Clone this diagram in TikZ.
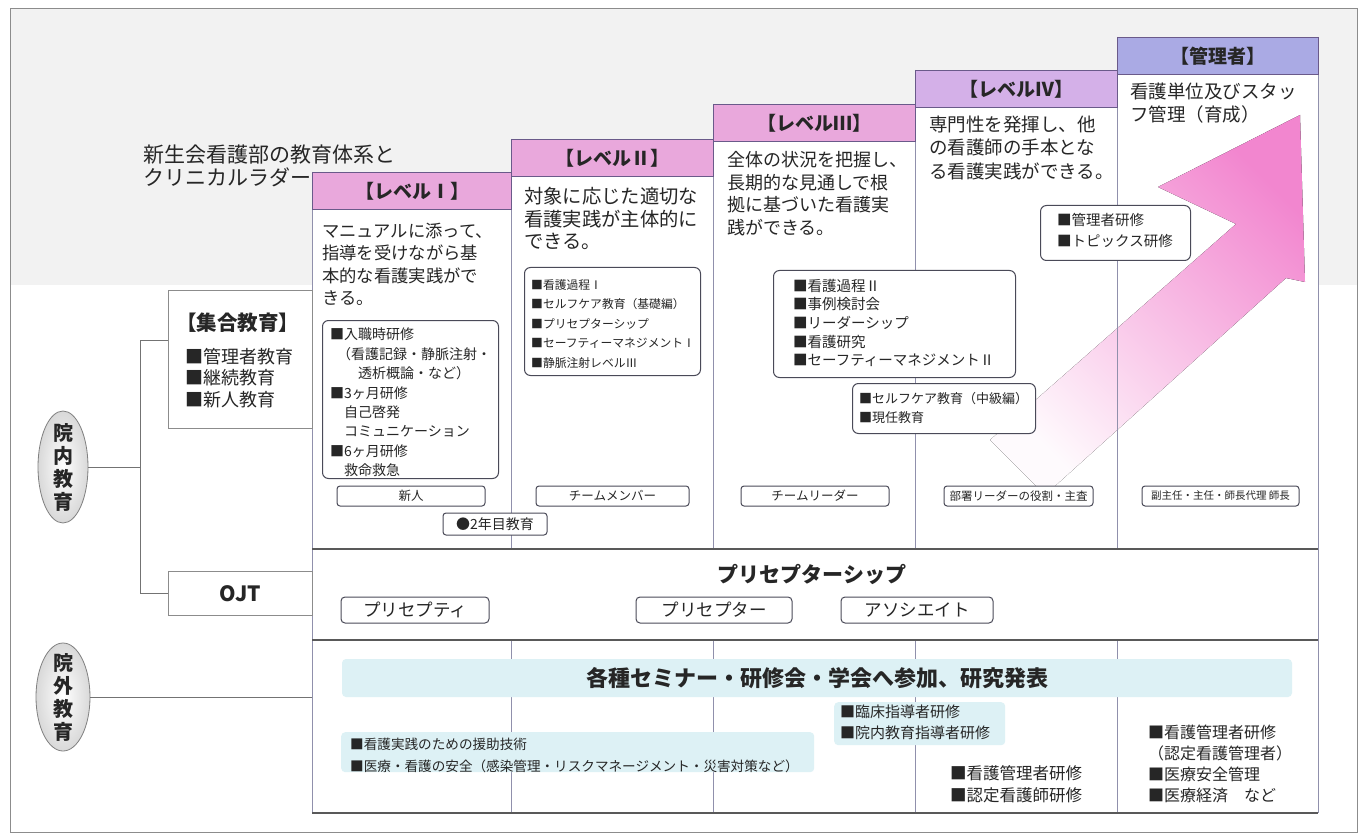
\documentclass[tikz,border=0pt]{standalone}
\usepackage{fontspec}
\setmainfont{Noto Sans CJK JP}
\usetikzlibrary{shapes.geometric}
\definecolor{hdrpink}{HTML}{E9A8DC}
\definecolor{hdrlav}{HTML}{D4B0E8}
\definecolor{hdrblue}{HTML}{AAAAE4}
\definecolor{colline}{HTML}{9090AC}
\definecolor{hdrline}{HTML}{6A5A8A}
\definecolor{boxline}{HTML}{4A4A58}
\definecolor{bandcyan}{HTML}{DDF1F5}
\definecolor{arrowpink}{HTML}{F286CF}
\definecolor{inktext}{HTML}{262626}
\newcommand{\fsz}[2]{\fontsize{#1}{#2}\selectfont}
\begin{document}
\begin{tikzpicture}[x=1pt,y=-1pt,
  every node/.style={text=inktext},
  txt/.style={anchor=north west, inner sep=0pt, align=left},
  rbox/.style={draw=boxline, line width=1pt, rounded corners=6pt, fill=white, anchor=north west, inner sep=0pt},
  lbl/.style={draw=boxline, line width=1pt, rounded corners=3pt, fill=white, inner sep=0pt, anchor=center},
  hdr/.style={fill=#1, draw=hdrline, line width=1.2pt, inner sep=0pt, anchor=north west, font=\fsz{19}{22}\bfseries},
  gridline/.style={draw=black!65, line width=1.6pt},
  colrule/.style={draw=colline, line width=0.9pt},
  conn/.style={draw=black!55, line width=1pt},
  oval/.style={ellipse, draw=black!50, line width=0.8pt, inner color=white, outer color=black!15, inner sep=0pt},
  vtext/.style={inner sep=0pt, align=center, font=\fsz{20}{23}\bfseries},
  band/.style={fill=bandcyan, rounded corners=4pt, inner sep=0pt},
]
\useasboundingbox (0,0) rectangle (1369,837);
\fill[white] (0,0) rectangle (1369,837);
\fill[black!5] (10,8) rectangle (1357,285);
\draw[black!45, line width=0.8pt] (10,8) rectangle (1357,832);

% title
\node[txt, font=\fsz{21}{23}] (title) at (143,144.5) {新生会看護部の教育体系と\\クリニカルラダー};

% columns
\fill[white] (312,172) rectangle (511,813);
\fill[white] (511,139) rectangle (713,813);
\fill[white] (713,104) rectangle (915,813);
\fill[white] (915,70) rectangle (1117,813);
\fill[white] (1117,37) rectangle (1318,813);

% big arrow
\fill[top color=arrowpink, bottom color=arrowpink!4, shading angle=-45]
  (1300,115) -- (1158,187) -- (1236,224) -- (990,440) -- (1045,495) -- (1286,278) -- (1305,282) -- cycle;

\draw[colrule] (312,172) -- (312,813);
\draw[colrule] (511,139) -- (511,549) (511,640) -- (511,813);
\draw[colrule] (713,104) -- (713,549) (713,640) -- (713,813);
\draw[colrule] (915,70) -- (915,549) (915,640) -- (915,813);
\draw[colrule] (1117,37) -- (1117,549) (1117,640) -- (1117,813);
\draw[colrule] (1318,37) -- (1318,813);

\node[hdr=hdrpink, minimum width=199, minimum height=37] (h1) at (312,172) {【レベルⅠ】};
\node[hdr=hdrpink, minimum width=202, minimum height=37] (h2) at (511,139) {【レベルⅡ】};
\node[hdr=hdrpink, minimum width=202, minimum height=37] (h3) at (713,104) {【レベルⅢ】};
\node[hdr=hdrlav, minimum width=202, minimum height=37] (h4) at (915,70) {【レベルⅣ】};
\node[hdr=hdrblue, minimum width=201, minimum height=37] (h5) at (1117,37) {【管理者】};

% grid lines
\draw[gridline] (312,549) -- (1318,549);
\draw[gridline] (312,640) -- (1318,640);
\draw[gridline] (312,813) -- (1318,813);

% descriptions
\node[txt, font=\fsz{17.3}{22.5}] (d1) at (322,222.5) {マニュアルに添って、\\指導を受けながら基\\本的な看護実践がで\\きる。};
\node[txt, font=\fsz{19.3}{22.5}] (d2) at (524,187.5) {対象に応じた適切な\\看護実践が主体的に\\できる。};
\node[txt, font=\fsz{18}{22.7}] (d3) at (727,151) {全体の状況を把握し、\\長期的な見通しで根\\拠に基づいた看護実\\践ができる。};
\node[txt, font=\fsz{18.5}{23.5}] (d4) at (929,115.5) {専門性を発揮し、他\\の看護師の手本とな\\る看護実践ができる。};
\node[txt, font=\fsz{18.5}{23}] (d5) at (1130,83) {看護単位及びスタッ\\フ管理（育成）};

% level boxes
\node[rbox, minimum width=176, minimum height=158] (b1) at (322,320) {};
\node[txt, font=\fsz{14}{19.4}] (b1t) at (330,328) {■入職時研修\\
\hspace*{7pt}（看護記録・静脈注射・\\
\hspace*{28pt}透析概論・など）\\
■3ヶ月研修\\
\hspace*{14pt}自己啓発\\
\hspace*{14pt}コミュニケーション\\
■6ヶ月研修\\
\hspace*{14pt}救命救急};

\node[rbox, minimum width=176, minimum height=108] (b2) at (524,267) {};
\node[txt, font=\fsz{11.8}{19.5}] (b2t) at (531,279.1) {■看護過程Ⅰ\\■セルフケア教育（基礎編）\\■プリセプターシップ\\■セーフティーマネジメントⅠ\\■静脈注射レベルⅢ};

\node[rbox, minimum width=242, minimum height=107] (b3) at (773,270) {};
\node[txt, font=\fsz{14.5}{18.7}] (b3t) at (793,278.7) {■看護過程Ⅱ\\■事例検討会\\■リーダーシップ\\■看護研究\\■セーフティーマネジメントⅡ};

\node[rbox, minimum width=183, minimum height=50] (b3b) at (852,383) {};
\node[txt, font=\fsz{13}{18.5}] (b3bt) at (859,392.5) {■セルフケア教育（中級編）\\■現任教育};

\node[rbox, minimum width=150, minimum height=55] (b4) at (1040,205) {};
\node[txt, font=\fsz{14.5}{21.5}] (b4t) at (1057,212.75) {■管理者研修\\■トピックス研修};

% role labels
\node[lbl, minimum width=148, minimum height=20, font=\fsz{12.5}{14}] (r1) at (411,496) {新人};
\node[lbl, minimum width=153, minimum height=20, font=\fsz{12.5}{14}] (r2) at (612.5,496) {チームメンバー};
\node[lbl, minimum width=148, minimum height=20, font=\fsz{12.5}{14}] (r3) at (815,496) {チームリーダー};
\node[lbl, minimum width=149, minimum height=20, font=\fsz{11.5}{14}] (r4) at (1018.5,496) {部署リーダーの役割・主査};
\node[lbl, minimum width=157, minimum height=20, font=\fsz{10.5}{14}] (r5) at (1220.5,496) {副主任・主任・師長代理 師長};
\node[lbl, minimum width=104, minimum height=22, font=\fsz{14}{16}] (r6) at (495,524) {●2年目教育};

% left side
\node[draw=black!45, line width=0.9pt, fill=white, anchor=north west, minimum width=144, minimum height=138, inner sep=0pt] (shugo) at (168,290) {};
\node[txt, font=\fsz{20.5}{23}\bfseries] (shugot) at (176,312.75) {【集合教育】};
\node[txt, font=\fsz{18}{21.5}] (shugob) at (185,348) {■管理者教育\\■継続教育\\■新人教育};

\node[draw=black!45, line width=0.9pt, fill=white, anchor=north west, minimum width=144, minimum height=44, inner sep=0pt, font=\fsz{21}{24}\bfseries] (ojt) at (168,571) {OJT};

\node[oval, minimum width=50, minimum height=112] (inner) at (63,467) {};
\node[vtext] (innert) at (inner) {院\\内\\教\\育};
\node[oval, minimum width=54, minimum height=108] (outer) at (63,697) {};
\node[vtext] (outert) at (outer) {院\\外\\教\\育};

\coordinate (jn) at (140,467);
\coordinate (jt) at (140,340);
\coordinate (jb) at (140,593);
\coordinate (gl) at (312,697);
\draw[conn] (inner.east) -- (jn);
\draw[conn] (jt) -- (jb);
\draw[conn] (jt) -- (jt -| shugo.west);
\draw[conn] (jb) -- (jb -| ojt.west);
\draw[conn] (outer.east) -- (gl);

% preceptorship band
\node[inner sep=0pt, font=\fsz{21}{24}\bfseries] (pship) at (812,574) {プリセプターシップ};
\node[lbl, rounded corners=4pt, minimum width=148, minimum height=26, font=\fsz{17.5}{20}] (p1) at (415,610) {プリセプティ};
\node[lbl, rounded corners=4pt, minimum width=156, minimum height=26, font=\fsz{17.5}{20}] (p2) at (714,610) {プリセプター};
\node[lbl, rounded corners=4pt, minimum width=152, minimum height=26, font=\fsz{17.5}{20}] (p3) at (917,610) {アソシエイト};

% seminars
\node[band, minimum width=950, minimum height=38, font=\fsz{22}{24}\bfseries] (sem) at (817,678) {各種セミナー・研修会・学会へ参加、研究発表};

\node[band, anchor=north west, minimum width=473, minimum height=40] (bandL) at (341,732) {};
\node[txt, font=\fsz{13.6}{22}] (extL) at (350,738.2) {■看護実践のための援助技術\\■医療・看護の安全（感染管理・リスクマネージメント・災害対策など）};

\node[band, anchor=north west, minimum width=171, minimum height=43] (bandM) at (834,702) {};
\node[txt, font=\fsz{15}{21.5}] (extM) at (840,704.5) {■臨床指導者研修\\■院内教育指導者研修};

\node[txt, font=\fsz{16.5}{21.5}] (extN) at (950,765.75) {■看護管理者研修\\■認定看護師研修};

\node[txt, font=\fsz{16}{21}] (extR) at (1148,725) {■看護管理者研修\\（認定看護管理者）\\■医療安全管理\\■医療経済　など};
\end{tikzpicture}
\end{document}
